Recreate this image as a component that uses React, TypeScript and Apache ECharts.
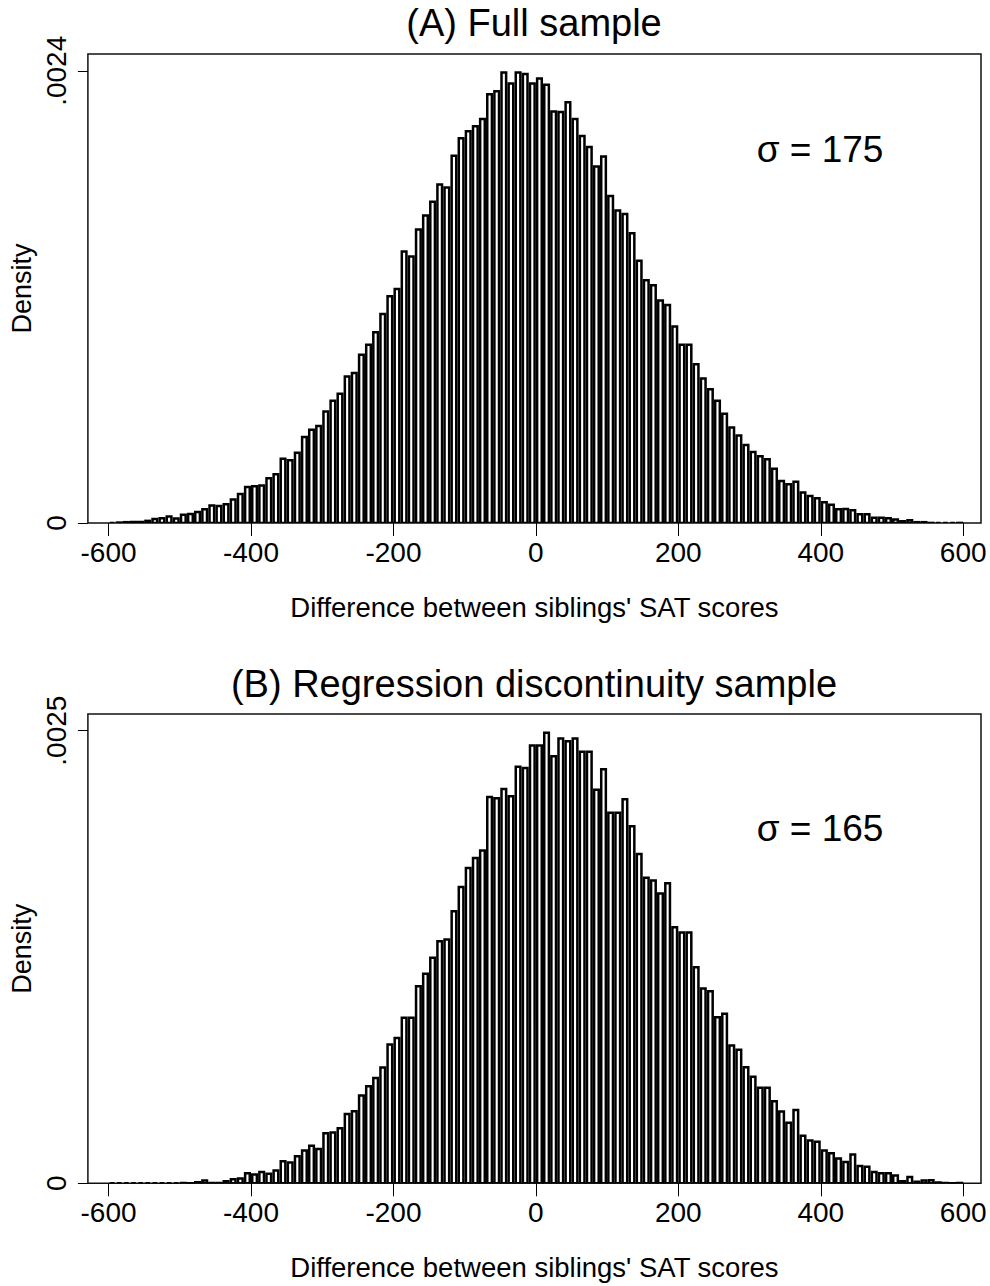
import React, { useEffect, useRef } from "react";
import * as echarts from "echarts";

// Histogram bins: width 10 SAT points, first bin starts at -600 (120 bins to 600)
const BIN_START = -600;
const BIN_WIDTH = 10;

// Densities (x 1e-6), panel (A) Full sample
const densityA_x1e6 = [
  5, 9, 11, 12, 12, 18, 28, 32, 41, 30,
  51, 55, 65, 80, 99, 97, 106, 131, 161, 198,
  202, 205, 244, 265, 348, 340, 380, 463, 502, 522,
  598, 655, 693, 784, 803, 899, 952, 1019, 1116, 1210,
  1249, 1447, 1421, 1564, 1638, 1712, 1803, 1787, 1955, 2049,
  2086, 2112, 2151, 2282, 2298, 2397, 2339, 2397, 2390, 2339,
  2365, 2332, 2190, 2188, 2240, 2151, 2061, 2002, 1898, 1951,
  1742, 1665, 1647, 1544, 1398, 1295, 1268, 1187, 1164, 1049,
  952, 952, 849, 773, 716, 655, 587, 513, 471, 421,
  384, 361, 345, 295, 230, 212, 226, 168, 150, 138,
  117, 104, 80, 81, 74, 53, 53, 35, 35, 32,
  25, 16, 21, 11, 11, 7, 4, 4, 4, 7,
];

// Densities (x 1e-6), panel (B) Regression discontinuity sample
const densityB_x1e6 = [
  4, 4, 4, 4, 6, 4, 6, 4, 4, 6,
  9, 7, 13, 22, 9, 9, 18, 29, 33, 63,
  55, 70, 59, 77, 129, 122, 156, 188, 214, 197,
  284, 287, 311, 390, 405, 492, 543, 589, 646, 773,
  810, 921, 921, 1095, 1164, 1252, 1344, 1353, 1510, 1644,
  1749, 1804, 1845, 2141, 2134, 2185, 2145, 2307, 2301, 2425,
  2425, 2495, 2366, 2463, 2449, 2463, 2390, 2390, 2180, 2294,
  2053, 2053, 2128, 1979, 1826, 1694, 1679, 1607, 1664, 1421,
  1392, 1392, 1200, 1083, 1068, 924, 944, 768, 744, 648,
  595, 534, 534, 460, 403, 342, 412, 269, 243, 236,
  188, 173, 144, 125, 166, 103, 99, 70, 63, 63,
  50, 18, 42, 15, 22, 24, 11, 9, 7, 9,
];

const X_TICKS = [-600, -400, -200, 0, 200, 400, 600];
const Y_TICKS_A = [0, 0.0024];
const Y_TICKS_B = [0, 0.0025];
const TITLE_A = "(A) Full sample";
const TITLE_B = "(B) Regression discontinuity sample";
const SIGMA_A = "σ = 175";
const SIGMA_B = "σ = 165";
const X_NAME = "Difference between siblings' SAT scores";
const Y_NAME = "Density";

const FONT = "'Liberation Sans', Arial, Helvetica, sans-serif";

function toBins(vals: number[]) {
  return vals.map((v, i) => [
    BIN_START + i * BIN_WIDTH,
    BIN_START + (i + 1) * BIN_WIDTH,
    v / 1e6,
  ]);
}

function fmtY(v: number) {
  if (v === 0) return "0";
  return String(v).replace(/^0\./, ".");
}

export default function App() {
  const ref = useRef<HTMLDivElement>(null);

  useEffect(() => {
    if (!ref.current) return;
    const chart = echarts.init(ref.current, undefined, { renderer: "svg" });

    const renderItem = (params: any, api: any) => {
      const x0 = api.value(0);
      const x1 = api.value(1);
      const y = api.value(2);
      const p0 = api.coord([x0, 0]);
      const p1 = api.coord([x1, y]);
      const lw = 2.5;
      const inset = lw / 2;
      const w = p1[0] - p0[0] - 2 * inset;
      const h = Math.max(p0[1] - p1[1] - inset, 0);
      return {
        type: "rect",
        shape: { x: p0[0] + inset, y: p0[1] - h, width: w, height: h },
        style: { fill: "#fff", stroke: "#000", lineWidth: lw },
      };
    };

    const xAxisCommon = (gridIndex: number) => ({
      type: "value" as const,
      gridIndex,
      min: -629,
      max: 625,
      name: X_NAME,
      nameLocation: "middle" as const,
      nameGap: 70,
      nameTextStyle: { fontFamily: FONT, fontSize: 27.5, color: "#000" },
      splitLine: { show: false },
      axisLine: { show: false, onZero: false },
      axisTick: {
        show: true,
        length: 13,
        customValues: X_TICKS,
        lineStyle: { color: "#000", width: 1 },
      },
      axisLabel: {
        customValues: X_TICKS,
        fontFamily: FONT,
        fontSize: 28,
        color: "#000",
        margin: 15,
      },
    });

    const yAxisCommon = (gridIndex: number, max: number, ticks: number[]) => ({
      type: "value" as const,
      gridIndex,
      min: 0,
      max,
      name: Y_NAME,
      nameLocation: "middle" as const,
      nameRotate: 90,
      nameGap: 52,
      nameTextStyle: { fontFamily: FONT, fontSize: 27, color: "#000" },
      splitLine: { show: false },
      axisLine: { show: false, onZero: false },
      axisTick: {
        show: true,
        length: 10,
        customValues: ticks,
        lineStyle: { color: "#000", width: 1 },
      },
      axisLabel: {
        customValues: ticks,
        rotate: 90,
        fontFamily: FONT,
        fontSize: 28,
        color: "#000",
        margin: 17,
        formatter: fmtY,
      },
    });

    const titleStyle = (size: number) => ({
      fontFamily: FONT,
      fontSize: size,
      fontWeight: "normal" as const,
      color: "#000",
    });

    chart.setOption({
      animation: false,
      backgroundColor: "#fff",
      title: [
        { text: TITLE_A, left: 534, top: 4, textAlign: "center", padding: 0, textStyle: titleStyle(38) },
        { text: TITLE_B, left: 534, top: 665, textAlign: "center", padding: 0, textStyle: titleStyle(38) },
        { text: SIGMA_A, left: 820, top: 131, textAlign: "center", padding: 0, textStyle: titleStyle(37) },
        { text: SIGMA_B, left: 820, top: 810, textAlign: "center", padding: 0, textStyle: titleStyle(37) },
      ],
      grid: [
        { left: 86.7, right: 9, top: 54, height: 469, show: true, borderColor: "#111", borderWidth: 1.5, backgroundColor: "transparent" },
        { left: 86.7, right: 9, top: 714, height: 469.3, show: true, borderColor: "#111", borderWidth: 1.5, backgroundColor: "transparent" },
      ],
      xAxis: [xAxisCommon(0), xAxisCommon(1)],
      yAxis: [yAxisCommon(0, 0.002489, Y_TICKS_A), yAxisCommon(1, 0.002592, Y_TICKS_B)],
      series: [
        {
          type: "custom",
          xAxisIndex: 0,
          yAxisIndex: 0,
          renderItem,
          encode: { x: [0, 1], y: 2 },
          data: toBins(densityA_x1e6),
          clip: true,
        },
        {
          type: "custom",
          xAxisIndex: 1,
          yAxisIndex: 1,
          renderItem,
          encode: { x: [0, 1], y: 2 },
          data: toBins(densityB_x1e6),
          clip: true,
        },
      ],
    });

    return () => chart.dispose();
  }, []);

  return (
    <div
      ref={ref}
      style={{ position: "absolute", left: 0, top: 0, width: 990, height: 1286, background: "#fff" }}
    />
  );
}
